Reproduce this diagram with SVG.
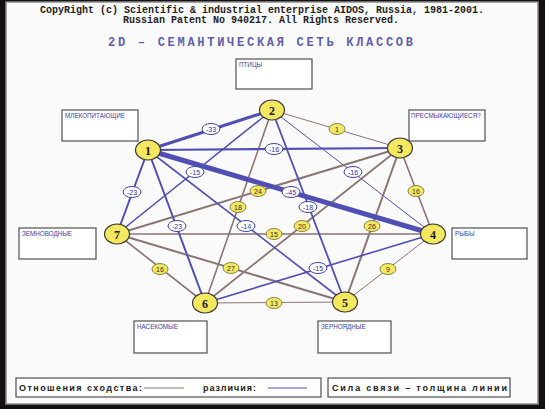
<svg xmlns="http://www.w3.org/2000/svg" width="545" height="409" viewBox="0 0 545 409">
<style>
.sim{stroke:#8c7474;fill:none}
.dif{stroke:#5050b4;fill:none}
.nd{fill:#f4e860;stroke:#3a3a3a;stroke-width:1.2}
.nt{font-family:"Liberation Serif",serif;font-weight:bold;font-size:12px;fill:#202020;text-anchor:middle}
.pl{fill:#f4e860;stroke:#6a6a40;stroke-width:0.8}
.nl{fill:#ffffff;stroke:#4040a0;stroke-width:1}
.plt{font-family:"Liberation Sans",sans-serif;font-size:7px;fill:#303030;text-anchor:middle}
.nlt{font-family:"Liberation Sans",sans-serif;font-size:7px;fill:#3030a0;text-anchor:middle}
.box{fill:#ffffff;stroke:#505050;stroke-width:1.2}
.bt{font-family:"Liberation Sans",sans-serif;font-size:6.3px;fill:#4040a0}
.ttl{font-family:"Liberation Mono",monospace;font-weight:bold;font-size:10px;fill:#1e1e1e;text-anchor:middle}
.lg{font-family:"Liberation Sans",sans-serif;font-weight:bold;font-size:9px;fill:#202020}
</style>
<rect x="0" y="0" width="545" height="409" fill="#141010"/>
<rect x="6" y="2" width="532" height="402" fill="#fafafa" stroke="#8a8a8a" stroke-width="1.5"/>
<text class="ttl" x="262" y="13">CopyRight (c) Scientific &amp; industrial enterprise AIDOS, Russia, 1981-2001.</text>
<text class="ttl" x="261" y="23">Russian Patent No 940217. All Rights Reserved.</text>
<text x="108" y="46" font-family="Liberation Mono,monospace" font-size="12" font-weight="bold" fill="#6060aa" textLength="305" lengthAdjust="spacing">2D  –  СЕМАНТИЧЕСКАЯ  СЕТЬ  КЛАССОВ</text>
<g id="connectors">
<line class="sim" x1="272" y1="110" x2="400" y2="148" stroke="#c4aca0" stroke-width="1"/>
<line class="dif" x1="272" y1="110" x2="433" y2="234" stroke="#a0a0b8" stroke-width="1"/>
<line class="sim" x1="433" y1="234" x2="345" y2="302" stroke="#c8b8a8" stroke-width="1"/>
<line class="sim" x1="205" y1="303" x2="345" y2="302" stroke="#9c8c80" stroke-width="1"/>
<line class="sim" x1="117" y1="234" x2="433" y2="234" stroke="#a09494" stroke-width="1.6"/>
<line class="sim" x1="400" y1="148" x2="433" y2="234" stroke-width="1.6"/>
<line class="sim" x1="400" y1="148" x2="117" y2="234" stroke-width="2"/>
<line class="sim" x1="272" y1="110" x2="205" y2="303" stroke-width="1.6"/>
<line class="sim" x1="400" y1="148" x2="205" y2="303" stroke-width="1.8"/>
<line class="sim" x1="400" y1="148" x2="345" y2="302" stroke-width="2"/>
<line class="sim" x1="117" y1="234" x2="205" y2="303" stroke-width="1.6"/>
<line class="sim" x1="117" y1="234" x2="345" y2="302" stroke-width="2"/>
<line class="dif" x1="148" y1="150" x2="400" y2="148" stroke="#505090" stroke-width="2.2"/>
<line class="dif" x1="272" y1="110" x2="117" y2="234" stroke-width="1.6"/>
<line class="dif" x1="272" y1="110" x2="345" y2="302" stroke-width="1.8"/>
<line class="dif" x1="148" y1="150" x2="117" y2="234" stroke-width="2"/>
<line class="dif" x1="148" y1="150" x2="205" y2="303" stroke-width="2"/>
<line class="dif" x1="148" y1="150" x2="345" y2="302" stroke-width="1.6"/>
<line class="dif" x1="433" y1="234" x2="205" y2="303" stroke-width="1.6"/>
<line class="dif" x1="148" y1="150" x2="272" y2="110" stroke-width="3"/>
<line class="dif" x1="148" y1="150" x2="433" y2="234" stroke-width="5"/>
<g id="edge-labels">
<ellipse class="nl" cx="211" cy="129" rx="9" ry="5.5"/><text class="nlt" x="211" y="131.5">-33</text>
<ellipse class="nl" cx="274" cy="149" rx="9" ry="5.5"/><text class="nlt" x="274" y="151.5">-16</text>
<ellipse class="pl" cx="337" cy="129" rx="8" ry="5.5"/><text class="plt" x="337" y="131.5">1</text>
<ellipse class="nl" cx="195" cy="172" rx="9" ry="5.5"/><text class="nlt" x="195" y="174.5">-15</text>
<ellipse class="nl" cx="353" cy="172" rx="9" ry="5.5"/><text class="nlt" x="353" y="174.5">-16</text>
<ellipse class="nl" cx="291" cy="192" rx="9" ry="5.5"/><text class="nlt" x="291" y="194.5">-45</text>
<ellipse class="pl" cx="258" cy="191" rx="8" ry="5.5"/><text class="plt" x="258" y="193.5">24</text>
<ellipse class="pl" cx="416" cy="191" rx="8" ry="5.5"/><text class="plt" x="416" y="193.5">16</text>
<ellipse class="nl" cx="132" cy="192" rx="9" ry="5.5"/><text class="nlt" x="132" y="194.5">-23</text>
<ellipse class="pl" cx="238" cy="207" rx="8" ry="5.5"/><text class="plt" x="238" y="209.5">18</text>
<ellipse class="nl" cx="308" cy="207" rx="9" ry="5.5"/><text class="nlt" x="308" y="209.5">-18</text>
<ellipse class="nl" cx="177" cy="226" rx="9" ry="5.5"/><text class="nlt" x="177" y="228.5">-23</text>
<ellipse class="nl" cx="246" cy="226" rx="9" ry="5.5"/><text class="nlt" x="246" y="228.5">-14</text>
<ellipse class="pl" cx="302" cy="226" rx="8" ry="5.5"/><text class="plt" x="302" y="228.5">20</text>
<ellipse class="pl" cx="372" cy="226" rx="8" ry="5.5"/><text class="plt" x="372" y="228.5">26</text>
<ellipse class="pl" cx="274" cy="234" rx="8" ry="5.5"/><text class="plt" x="274" y="236.5">15</text>
<ellipse class="pl" cx="160" cy="269" rx="8" ry="5.5"/><text class="plt" x="160" y="271.5">16</text>
<ellipse class="pl" cx="231" cy="268" rx="8" ry="5.5"/><text class="plt" x="231" y="270.5">27</text>
<ellipse class="nl" cx="318" cy="268" rx="9" ry="5.5"/><text class="nlt" x="318" y="270.5">-15</text>
<ellipse class="pl" cx="388" cy="269" rx="8" ry="5.5"/><text class="plt" x="388" y="271.5">9</text>
<ellipse class="pl" cx="274" cy="303" rx="8" ry="5.5"/><text class="plt" x="274" y="305.5">13</text>
</g>
</g>
<g id="node1"><rect class="box" x="62" y="110" width="76" height="31"/><text class="bt" x="65" y="118">МЛЕКОПИТАЮЩИЕ</text><ellipse class="nd" cx="148" cy="150" rx="12.5" ry="10"/><text class="nt" x="148" y="154.5">1</text></g>
<g id="node2"><rect class="box" x="236" y="59" width="76" height="30"/><text class="bt" x="239" y="67">ПТИЦЫ</text><ellipse class="nd" cx="272" cy="110" rx="12.5" ry="10"/><text class="nt" x="272" y="114.5">2</text></g>
<g id="node3"><rect class="box" x="409" y="110" width="76" height="31"/><text class="bt" x="411" y="118">ПРЕСМЫКАЮЩИЕСЯ?</text><ellipse class="nd" cx="400" cy="148" rx="12.5" ry="10"/><text class="nt" x="400" y="152.5">3</text></g>
<g id="node4"><rect class="box" x="452" y="228" width="75" height="31"/><text class="bt" x="455" y="236">РЫБЫ</text><ellipse class="nd" cx="433" cy="234" rx="12.5" ry="10"/><text class="nt" x="433" y="238.5">4</text></g>
<g id="node5"><rect class="box" x="318" y="321" width="73" height="32"/><text class="bt" x="321" y="329">ЗЕРНОЯДНЫЕ</text><ellipse class="nd" cx="345" cy="302" rx="12.5" ry="10"/><text class="nt" x="345" y="306.5">5</text></g>
<g id="node6"><rect class="box" x="134" y="321" width="73" height="32"/><text class="bt" x="137" y="329">НАСЕКОМЫЕ</text><ellipse class="nd" cx="205" cy="303" rx="12.5" ry="10"/><text class="nt" x="205" y="307.5">6</text></g>
<g id="node7"><rect class="box" x="19" y="228" width="77" height="31"/><text class="bt" x="22" y="236">ЗЕМНОВОДНЫЕ</text><ellipse class="nd" cx="117" cy="234" rx="12.5" ry="10"/><text class="nt" x="117" y="238.5">7</text></g>
<g id="legend">
<rect class="box" x="16" y="378" width="305" height="19"/>
<text class="lg" x="19" y="391" textLength="123" lengthAdjust="spacing">Отношения  сходства:</text>
<line x1="144" y1="388" x2="184" y2="388" stroke="#8c7474" stroke-width="1.2"/>
<text class="lg" x="203" y="391" textLength="53" lengthAdjust="spacing">различия:</text>
<line x1="268" y1="388" x2="307" y2="388" stroke="#5050b4" stroke-width="1.2"/>
<rect class="box" x="328" y="378" width="182" height="19"/>
<text class="lg" x="332" y="391" textLength="175" lengthAdjust="spacing">Сила  связи  –  толщина  линии</text>
</g>
</svg>
